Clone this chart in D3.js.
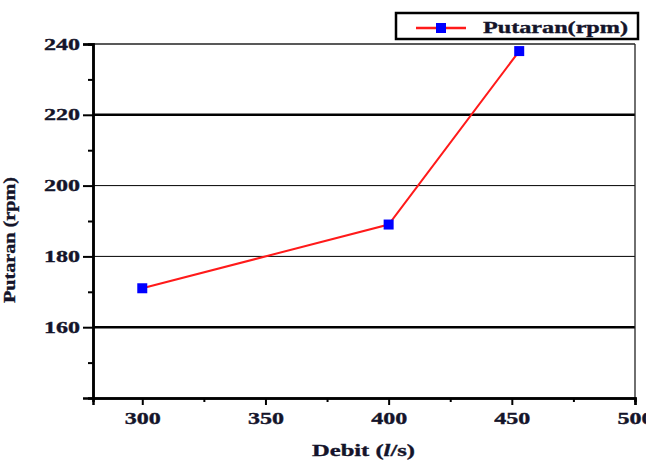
<!DOCTYPE html>
<html>
<head>
<meta charset="utf-8">
<script src="https://cdn.jsdelivr.net/npm/d3@7"></script>
<style>
  body { margin: 0; background: #fff; }
  svg text { stroke: #14142a; stroke-width: 0.35px; }
</style>
</head>
<body>
<div id="chart"></div>
<script>
// Data
const debit = [300, 400, 453];
const putaran = [171, 189, 238];
const xTicks = [300, 350, 400, 450, 500];
const yTicks = [160, 180, 200, 220, 240];
const seriesName = "Putaran(rpm)";

const FONT = '"Liberation Serif", "Times New Roman", "DejaVu Serif", serif';

const width = 646, height = 464;
const margin = { top: 44, right: 11, bottom: 66, left: 93 };
const innerW = width - margin.left - margin.right;
const innerH = height - margin.top - margin.bottom;

const svg = d3.select("#chart").append("svg")
  .attr("width", width).attr("height", height)
  .attr("font-family", FONT).attr("font-weight", "bold");

const g = svg.append("g").attr("transform", `translate(${margin.left},${margin.top})`);

const x = d3.scaleLinear().domain([280, 500]).range([0, innerW]);
const y = d3.scaleLinear().domain([140, 240]).range([innerH, 0]);

// Horizontal grid lines (160 and 220 drawn heavier)
g.selectAll("line.grid").data([160, 180, 200, 220]).enter().append("line")
  .attr("x1", 0).attr("x2", innerW)
  .attr("y1", d => y(d)).attr("y2", d => y(d))
  .attr("stroke", "#000")
  .attr("stroke-width", d => (d === 160 || d === 220) ? 2.5 : 1);

// Frame: top and right thin
g.append("line").attr("x1", 0).attr("x2", innerW).attr("y1", 0).attr("y2", 0)
  .attr("stroke", "#222").attr("stroke-width", 1.3);
g.append("line").attr("x1", innerW).attr("x2", innerW).attr("y1", 0).attr("y2", innerH)
  .attr("stroke", "#222").attr("stroke-width", 1.3);

// Minor ticks
const xMinor = [325, 375, 425, 475];
const yMinor = [150, 170, 190, 210, 230];

const xAxis = d3.axisBottom(x).tickValues(xTicks).tickSize(7).tickPadding(8);
const xAxisMinor = d3.axisBottom(x).tickValues(xMinor).tickSize(4).tickFormat("");
const yAxis = d3.axisLeft(y).tickValues(yTicks).tickSize(10).tickPadding(3);
const yAxisMinor = d3.axisLeft(y).tickValues(yMinor).tickSize(5).tickFormat("");

const styleAxis = (sel, len) => {
  sel.attr("font-family", FONT).attr("font-weight", "bold");
  sel.select(".domain").attr("stroke", "#000").attr("stroke-width", 2.5);
  sel.selectAll(".tick line").attr("stroke", "#000").attr("stroke-width", 2);
  sel.selectAll(".tick text").attr("font-size", 16).attr("fill", "#14142a")
    .attr("textLength", len).attr("lengthAdjust", "spacingAndGlyphs");
};

g.append("g").attr("transform", `translate(0,${innerH})`).call(xAxisMinor).call(styleAxis, 36);
g.append("g").attr("transform", `translate(0,${innerH})`).call(xAxis).call(styleAxis, 36);
g.append("g").call(yAxisMinor).call(styleAxis, 36);
g.append("g").call(yAxis).call(styleAxis, 36);

// Line and markers
const pts = debit.map((d, i) => ({ x: d, y: putaran[i] }));
g.append("path").datum(pts)
  .attr("fill", "none").attr("stroke", "#ff1a1a").attr("stroke-width", 2)
  .attr("d", d3.line().x(d => x(d.x)).y(d => y(d.y)));

const ms = 10;
g.selectAll("rect.pt").data(pts).enter().append("rect")
  .attr("x", d => x(d.x) - ms / 2).attr("y", d => y(d.y) - ms / 2)
  .attr("width", ms).attr("height", ms).attr("fill", "#0000ff");

// Axis titles
const xt = svg.append("text")
  .attr("x", 312).attr("y", 456)
  .attr("font-size", 17).attr("fill", "#14142a")
  .attr("textLength", 103).attr("lengthAdjust", "spacingAndGlyphs");
xt.append("tspan").text("Debit (");
xt.append("tspan").attr("font-style", "italic").text("l");
xt.append("tspan").text("/s)");

svg.append("text")
  .attr("transform", "translate(15,240) rotate(-90)")
  .attr("text-anchor", "middle").attr("font-size", 16).attr("fill", "#14142a")
  .attr("textLength", 126).attr("lengthAdjust", "spacingAndGlyphs")
  .text("Putaran (rpm)");

// Legend
const lg = svg.append("g").attr("transform", "translate(396,13)");
lg.append("rect").attr("width", 242).attr("height", 26)
  .attr("fill", "#fff").attr("stroke", "#000").attr("stroke-width", 2.5);
lg.append("line").attr("x1", 20).attr("x2", 70).attr("y1", 15).attr("y2", 15)
  .attr("stroke", "#ff1a1a").attr("stroke-width", 2.5);
lg.append("rect").attr("x", 40).attr("y", 10).attr("width", ms).attr("height", ms).attr("fill", "#0000ff");
lg.append("text").attr("x", 87).attr("y", 20).attr("font-size", 17).attr("fill", "#14142a")
  .attr("textLength", 145).attr("lengthAdjust", "spacingAndGlyphs")
  .text(seriesName);
</script>
</body>
</html>
